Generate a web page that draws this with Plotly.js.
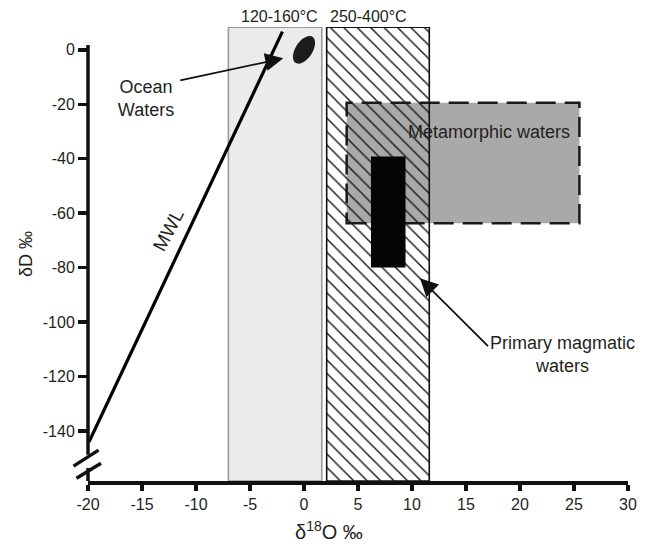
<!DOCTYPE html>
<html><head><meta charset="utf-8">
<script src="https://cdn.plot.ly/plotly-3.0.1.min.js"></script>
<style>html,body{margin:0;padding:0;background:#fff}</style>
</head><body>
<div id="chart" style="width:653px;height:549px"></div>
<script>
// ---------------- data ----------------
const xTicks = [-20, -15, -10, -5, 0, 5, 10, 15, 20, 25, 30];
const yTicks = [0, -20, -40, -60, -80, -100, -120, -140];
const xRange = [-20, 30];
const yRange = [-158.4, 8.4];
const yAxisTop = 1.8;
const yAxisBreak = [-148.8, -153.6];
const breakMarksY = [-150.0, -154.6];

// Meteoric water line
const mwlX = [-19.9, -2.0];
const mwlY = [-144, 6.7];

// temperature bands
const tempLabels = ['120-160°C', '250-400°C'];
const tempLabelX = [-2.3, 5.95];
const tempX0 = [-7.0, 2.1];
const tempX1 = [1.65, 11.6];
const tempTop = 8.3;

// metamorphic waters box
const metaX = [3.95, 25.5];
const metaY = [-63.7, -19.4];

// primary magmatic waters box
const magX = [6.2, 9.4];
const magY = [-80, -39.2];

// ocean waters
const oceanX = [0];
const oceanY = [0];

// arrow targets
const oceanArrowTip = [-1.92, -3.1];
const magArrowTip = [10.74, -83.9];

// ---------------- drawing ----------------
const FONT = 'Liberation Sans, Arial, Helvetica, sans-serif';
const TXT = '#231f20';
const W = 653, H = 549;
const M = {l: 88, r: 25, t: 27, b: 68};
const sx = (W - M.l - M.r) / (xRange[1] - xRange[0]);
const sy = (H - M.t - M.b) / (yRange[1] - yRange[0]);

// ocean ellipse outline (tilted), built around the data centre
function ellipsePath(cx, cy, a, b, degClockwise) {
  const th = degClockwise * Math.PI / 180;
  let d = '';
  for (let i = 0; i <= 48; i++) {
    const t = i / 48 * 2 * Math.PI;
    const u = a * Math.cos(t), v = b * Math.sin(t);
    const px = u * Math.cos(th) + v * Math.sin(th);
    const py = u * Math.sin(th) - v * Math.cos(th);
    const X = cx + px / sx, Y = cy - py / sy;
    d += (i === 0 ? 'M' : 'L') + X.toFixed(4) + ',' + Y.toFixed(4);
  }
  return d + 'Z';
}

const traces = [
  { // hatched 250-400 band
    type: 'bar',
    x: [(tempX0[1] + tempX1[1]) / 2],
    width: [tempX1[1] - tempX0[1]],
    base: [yRange[0]],
    y: [tempTop - yRange[0]],
    marker: {
      color: 'rgba(0,0,0,0)',
      line: {color: '#111', width: 1.6},
      pattern: {shape: '\\', size: 9.5, solidity: 0.15, fgcolor: '#1a1a1a', bgcolor: 'rgba(0,0,0,0)', fgopacity: 1}
    },
    hoverinfo: 'skip', showlegend: false
  },
  { // MWL
    type: 'scatter', mode: 'lines',
    x: mwlX, y: mwlY,
    line: {color: '#000', width: 3.2},
    hoverinfo: 'skip', showlegend: false
  }
];

const shapes = [
  // metamorphic box (below traces)
  {type: 'rect', layer: 'below', xref: 'x', yref: 'y',
   x0: metaX[0], x1: metaX[1], y0: metaY[0], y1: metaY[1],
   fillcolor: '#a9a9a9', line: {color: '#1a1a1a', width: 2.5, dash: '20px,9px'}},
  // 120-160 band
  {type: 'rect', layer: 'below', xref: 'x', yref: 'y',
   x0: tempX0[0], x1: tempX1[0], y0: yRange[0], y1: tempTop,
   fillcolor: '#ebebeb', line: {color: '#9a9a9a', width: 1.6}},
  // primary magmatic box
  {type: 'rect', layer: 'above', xref: 'x', yref: 'y',
   x0: magX[0], x1: magX[1], y0: magY[0], y1: magY[1],
   fillcolor: '#050505', line: {width: 0}},
  // ocean waters ellipse
  {type: 'path', layer: 'above', xref: 'x', yref: 'y',
   path: ellipsePath(oceanX[0], oceanY[0], 8.5, 15.5, 33),
   fillcolor: '#1c1c1c', line: {width: 0}},
  // y axis line with break
  {type: 'line', layer: 'above', xref: 'paper', yref: 'y',
   x0: 0, x1: 0, y0: yAxisTop, y1: yAxisBreak[0], line: {color: '#111', width: 3.5}},
  {type: 'line', layer: 'above', xref: 'paper', yref: 'y',
   x0: 0, x1: 0, y0: yAxisBreak[1], y1: yRange[0], line: {color: '#111', width: 3.5}},
  // break marks
  {type: 'line', layer: 'above', xref: 'paper', xsizemode: 'pixel', xanchor: 0,
   x0: -14.5, x1: 10.5, yref: 'y', ysizemode: 'pixel', yanchor: breakMarksY[0],
   y0: -8, y1: 8, line: {color: '#111', width: 3.5}},
  {type: 'line', layer: 'above', xref: 'paper', xsizemode: 'pixel', xanchor: 0,
   x0: -11.5, x1: 13, yref: 'y', ysizemode: 'pixel', yanchor: breakMarksY[1],
   y0: -7.5, y1: 7.5, line: {color: '#111', width: 3.5}}
];

const annotations = [
  // temperature labels
  {xref: 'x', yref: 'paper', x: tempLabelX[0], y: 1, yshift: 11, yanchor: 'middle',
   text: tempLabels[0], showarrow: false, font: {family: FONT, size: 16, color: TXT}},
  {xref: 'x', yref: 'paper', x: tempLabelX[1], y: 1, yshift: 11, yanchor: 'middle',
   text: tempLabels[1], showarrow: false, font: {family: FONT, size: 16, color: TXT}},
  // ocean waters (label + arrow)
  {xref: 'x', yref: 'y', x: oceanArrowTip[0], y: oceanArrowTip[1], ax: -103, ay: 22,
   text: 'Ocean<br>Waters', xanchor: 'right', yanchor: 'middle', width: 64, height: 80,
   align: 'center', valign: 'bottom',
   showarrow: true, arrowhead: 2, arrowsize: 2, arrowwidth: 1.8, arrowcolor: '#111', standoff: 0,
   font: {family: FONT, size: 18, color: TXT}},
  // MWL label
  {xref: 'x', yref: 'y', x: -12.6, y: -66.2, text: 'MWL', textangle: -62, showarrow: false,
   font: {family: FONT, size: 19, color: TXT}},
  // metamorphic
  {xref: 'x', yref: 'y', x: 17.13, y: -30.0, text: 'Metamorphic waters', showarrow: false,
   font: {family: FONT, size: 18, color: TXT}},
  // primary magmatic (label + arrow)
  {xref: 'x', yref: 'y', x: magArrowTip[0], y: magArrowTip[1], ax: 68, ay: 68,
   text: 'Primary magmatic<br>waters', xanchor: 'left', yanchor: 'middle', height: 60,
   align: 'center', valign: 'bottom',
   showarrow: true, arrowhead: 2, arrowsize: 2, arrowwidth: 1.8, arrowcolor: '#111', standoff: 0,
   font: {family: FONT, size: 18, color: TXT}},
  // x axis title
  {xref: 'paper', yref: 'paper', x: (329 - M.l) / (W - M.l - M.r), y: -49 / (H - M.t - M.b),
   yanchor: 'middle', text: 'δ<sup>18</sup>O ‰', showarrow: false,
   font: {family: FONT, size: 20, color: TXT}}
];

const layout = {
  width: W, height: H,
  margin: M,
  paper_bgcolor: '#fff', plot_bgcolor: 'rgba(0,0,0,0)',
  showlegend: false,
  xaxis: {
    range: xRange, tickmode: 'array', tickvals: xTicks, ticktext: xTicks.map(String),
    showgrid: false, zeroline: false, showline: true, linecolor: '#111', linewidth: 3.5,
    ticks: 'outside', ticklen: 6, tickwidth: 3.5, tickcolor: '#111',
    tickfont: {family: FONT, size: 16, color: TXT}
  },
  yaxis: {
    range: yRange, tickmode: 'array', tickvals: yTicks, ticktext: yTicks.map(String),
    showgrid: false, zeroline: false, showline: false,
    ticks: 'outside', ticklen: 9, tickwidth: 3.5, tickcolor: '#111',
    tickfont: {family: FONT, size: 16, color: TXT},
    title: {text: 'δD ‰\u00a0\u00a0\u00a0', font: {family: FONT, size: 18, color: TXT}, standoff: 5}
  },
  bargap: 0,
  shapes: shapes,
  annotations: annotations
};

Plotly.newPlot('chart', traces, layout, {displayModeBar: false, staticPlot: true});
</script>
</body></html>
